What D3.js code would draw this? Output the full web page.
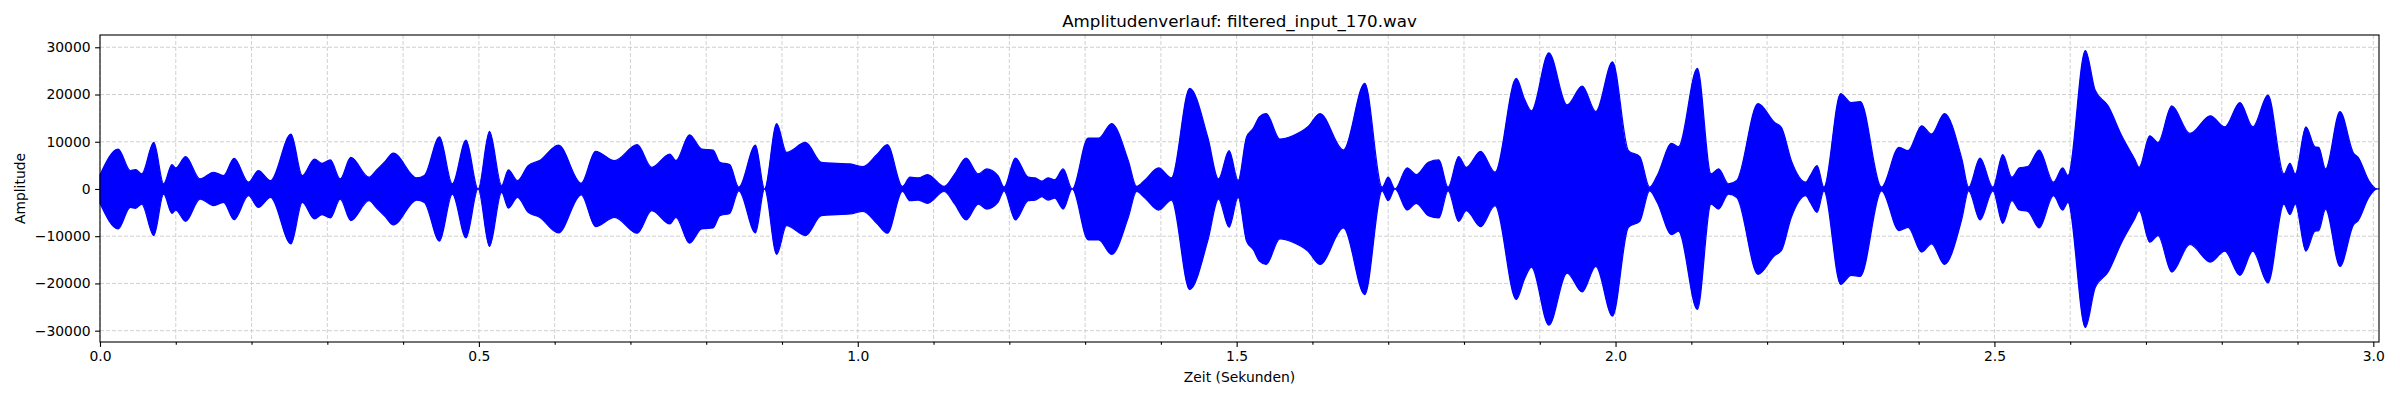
<!doctype html>
<html lang="de">
<head>
    <meta charset="UTF-8">
    <script src="https://cdnjs.cloudflare.com/ajax/libs/d3/7.8.5/d3.min.js"></script>
    <title>Amplitudenverlauf</title>
    <style>
        body { margin: 0; background: #fff; }
        text { font-family: "DejaVu Sans", sans-serif; fill: #000; }
    </style>
</head>
<body>
<div id="viz_area"></div>

<script>
    // envelope of the waveform (seconds / amplitude)
    const envTime = [
        0.000, 0.024, 0.040, 0.047, 0.055, 0.071, 0.084, 0.095, 0.100, 0.113,
        0.132, 0.150, 0.163, 0.177, 0.196, 0.209, 0.225, 0.252, 0.267, 0.283,
        0.293, 0.304, 0.317, 0.331, 0.355, 0.365, 0.376, 0.387, 0.418, 0.428,
        0.448, 0.465, 0.483, 0.499, 0.514, 0.530, 0.539, 0.551, 0.565, 0.580,
        0.605, 0.635, 0.654, 0.679, 0.709, 0.728, 0.752, 0.760, 0.778, 0.794,
        0.809, 0.818, 0.831, 0.843, 0.865, 0.877, 0.893, 0.906, 0.931, 0.952,
        0.972, 0.990, 1.007, 1.025, 1.039, 1.059, 1.069, 1.080, 1.092, 1.114,
        1.128, 1.143, 1.159, 1.170, 1.185, 1.193, 1.208, 1.225, 1.234, 1.243,
        1.251, 1.260, 1.271, 1.283, 1.304, 1.318, 1.335, 1.357, 1.368, 1.379,
        1.397, 1.414, 1.438, 1.462, 1.476, 1.490, 1.502, 1.513, 1.522, 1.530,
        1.539, 1.557, 1.574, 1.594, 1.610, 1.641, 1.669, 1.692, 1.700, 1.709,
        1.725, 1.737, 1.753, 1.767, 1.779, 1.793, 1.803, 1.822, 1.841, 1.869,
        1.880, 1.889, 1.912, 1.936, 1.956, 1.974, 1.996, 2.017, 2.032, 2.045,
        2.055, 2.074, 2.083, 2.108, 2.126, 2.136, 2.149, 2.160, 2.188, 2.210,
        2.219, 2.232, 2.251, 2.257, 2.266, 2.275, 2.297, 2.311, 2.323, 2.351,
        2.374, 2.386, 2.404, 2.417, 2.434, 2.457, 2.466, 2.481, 2.498, 2.511,
        2.523, 2.533, 2.544, 2.559, 2.578, 2.590, 2.597, 2.620, 2.633, 2.650,
        2.668, 2.685, 2.691, 2.705, 2.716, 2.734, 2.758, 2.785, 2.804, 2.824,
        2.841, 2.861, 2.882, 2.890, 2.897, 2.911, 2.923, 2.928, 2.937, 2.956,
        2.974, 2.980, 2.994, 3.005, 3.0075
    ];
    const envAmp = [
        3000, 8450, 3900, 4100, 3200, 9860, 1100, 5150, 4460, 6840,
        2140, 3540, 2840, 6490, 1440, 3900, 1790, 11620, 2840, 6350,
        5440, 6140, 2140, 6700, 2490, 4040, 5800, 7610, 2350, 2840,
        11050, 1100, 10350, 0, 12180, 740, 4040, 1790, 4950, 6000,
        9300, 1230, 7970, 6000, 9370, 4600, 7400, 6000, 11480, 8460,
        8250, 5650, 5160, 390, 9300, 0, 13860, 7760, 9860, 5650,
        5440, 5300, 4740, 7260, 9370, 530, 2490, 2350, 3050, 530,
        3200, 6560, 3200, 4250, 2840, 390, 6560, 2490, 2350, 1650,
        2350, 1930, 4250, 0, 10780, 10780, 13860, 6000, 530, 1930,
        4460, 2350, 21300, 10900, 2140, 8100, 1790, 11000, 12880, 15270,
        15970, 10560, 11270, 13160, 15970, 8250, 22360, 390, 2490, 0,
        4460, 3050, 5650, 6140, 390, 6840, 4600, 7970, 3550, 23410,
        18990, 16530, 28820, 17800, 21800, 16390, 26920, 8110, 6840, 390,
        2840, 9650, 8950, 25520, 3190, 4250, 1090, 1790, 18080, 14080,
        13020, 6000, 1440, 2840, 4950, 390, 20180, 18290, 18500, 390,
        8810, 8110, 13370, 11620, 15970, 6350, 390, 6560, 390, 7270,
        2490, 4460, 4740, 8250, 1440, 4460, 2840, 29310, 20880, 17590,
        11270, 6350, 4600, 11270, 9860, 17590, 11760, 15480, 13160, 18290,
        13160, 19900, 3190, 5440, 3190, 13160, 8950, 8810, 4250, 16390,
        7550, 6700, 1790, 0, 0
    ];

    const xMajorTicks = [0.0, 0.5, 1.0, 1.5, 2.0, 2.5, 3.0];
    const xMinorTicks = [0.1, 0.2, 0.3, 0.4, 0.6, 0.7, 0.8, 0.9, 1.1, 1.2, 1.3, 1.4,
        1.6, 1.7, 1.8, 1.9, 2.1, 2.2, 2.3, 2.4, 2.6, 2.7, 2.8, 2.9];
    const yTicks = [-30000, -20000, -10000, 0, 10000, 20000, 30000];

    const titleText = "Amplitudenverlauf: filtered_input_170.wav";
    const xLabel = "Zeit (Sekunden)";
    const yLabel = "Amplitude";

    const W = 2400, H = 400;
    const margin = {top: 35, right: 21, bottom: 58, left: 100};
    const width = W - margin.left - margin.right,
        height = H - margin.top - margin.bottom;

    const svg = d3.select('#viz_area')
        .append("svg")
        .attr("width", W)
        .attr("height", H)
        .append("g")
        .attr("transform", `translate(${margin.left},${margin.top})`);

    const x = d3.scaleLinear().domain([0, 3.0075]).range([0, width]);
    const y = d3.scaleLinear().domain([-32400, 32600]).range([height, 0]);

    const envData = envTime.map((t, i) => ({t: t, v: envAmp[i]}));

    // grid (major + minor on x, major on y)
    const grid = svg.append("g")
        .attr("stroke", "#cccccc")
        .attr("stroke-width", 0.9)
        .attr("stroke-dasharray", "4,2");

    grid.selectAll(".vgrid")
        .data(xMajorTicks.concat(xMinorTicks))
        .join("line")
        .attr("x1", d => x(d)).attr("x2", d => x(d))
        .attr("y1", 0).attr("y2", height);

    grid.selectAll(".hgrid")
        .data(yTicks)
        .join("line")
        .attr("x1", 0).attr("x2", width)
        .attr("y1", d => y(d)).attr("y2", d => y(d));

    // waveform envelope
    const area = d3.area()
        .x(d => x(d.t))
        .y0(d => y(-d.v))
        .y1(d => y(d.v))
        .curve(d3.curveMonotoneX);

    svg.append("path")
        .datum(envData)
        .attr("d", area)
        .attr("fill", "#0000ff")
        .attr("stroke", "#0000ff")
        .attr("stroke-width", 1.2)
        .attr("stroke-linejoin", "round");

    // axes
    const xAxis = svg.append("g")
        .attr("transform", `translate(0,${height})`)
        .call(d3.axisBottom(x).tickValues(xMajorTicks)
            .tickFormat(d3.format(".1f")).tickSize(4.9).tickPadding(4.5));

    svg.append("g")
        .attr("transform", `translate(0,${height})`)
        .call(d3.axisBottom(x).tickValues(xMinorTicks)
            .tickFormat("").tickSize(2.8))
        .call(g => g.select(".domain").remove());

    const yAxis = svg.append("g")
        .call(d3.axisLeft(y).tickValues(yTicks)
            .tickFormat(d3.format("d")).tickSize(4.9).tickPadding(4.5));

    svg.selectAll(".tick text")
        .style("font-size", "13.9px")
        .style("font-family", "DejaVu Sans, sans-serif");
    svg.selectAll(".tick line").attr("stroke", "#000").attr("stroke-width", 1.1);
    svg.selectAll(".domain").remove();

    // frame
    svg.append("rect")
        .attr("x", 0).attr("y", 0)
        .attr("width", width).attr("height", height)
        .attr("fill", "none")
        .attr("stroke", "#000")
        .attr("stroke-width", 1.1);

    // labels
    svg.append("text")
        .attr("x", width / 2)
        .attr("y", -8)
        .attr("text-anchor", "middle")
        .style("font-size", "16.7px")
        .text(titleText);

    svg.append("text")
        .attr("x", width / 2)
        .attr("y", height + 40)
        .attr("text-anchor", "middle")
        .style("font-size", "13.9px")
        .text(xLabel);

    svg.append("text")
        .attr("transform", `translate(${-80},${height / 2}) rotate(-90)`)
        .attr("text-anchor", "middle")
        .attr("dy", "0.35em")
        .style("font-size", "13.9px")
        .text(yLabel);
</script>
</body>
</html>
